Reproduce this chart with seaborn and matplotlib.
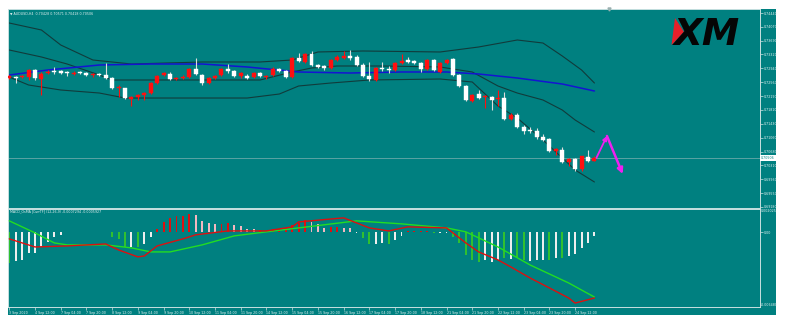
import numpy as np
import matplotlib
matplotlib.use("Agg")
import matplotlib.pyplot as plt
from matplotlib.patches import Rectangle, Polygon
from matplotlib.transforms import blended_transform_factory
import seaborn as sns

# ---------------- data: AUDUSD H4 ----------------
opens = [0.72680, 0.72708, 0.72708, 0.72708, 0.72898, 0.72653, 0.72816, 0.72871, 0.72871, 0.72844,
         0.72789, 0.72844, 0.72816, 0.72762, 0.72789, 0.72762, 0.72680, 0.72408, 0.72408, 0.72109,
         0.72164, 0.72218, 0.72272, 0.72544, 0.72762, 0.72789, 0.72653, 0.72680, 0.72708, 0.72925,
         0.72762, 0.72544, 0.72680, 0.72762, 0.72925, 0.72871, 0.72735, 0.72735, 0.72708, 0.72816,
         0.72708, 0.72762, 0.72925, 0.72871, 0.72708, 0.73224, 0.73116, 0.73333, 0.73034, 0.73007,
         0.72952, 0.73170, 0.73224, 0.73279, 0.73252, 0.73034, 0.72735, 0.72626, 0.72952, 0.72925,
         0.72898, 0.73088, 0.73170, 0.73143, 0.73088, 0.72925, 0.73170, 0.72844, 0.73088, 0.73197,
         0.72762, 0.72463, 0.72055, 0.72245, 0.72164, 0.72164, 0.72109, 0.72136, 0.71565, 0.71674,
         0.71348, 0.71266, 0.71239, 0.71076, 0.71021, 0.70695, 0.70722, 0.70396, 0.70477, 0.70205,
         0.70532, 0.70428]
highs = [0.72762, 0.72735, 0.72762, 0.72925, 0.72925, 0.72844, 0.72898, 0.72980, 0.72898, 0.72871,
         0.72871, 0.72871, 0.72844, 0.72816, 0.72816, 0.73088, 0.72708, 0.72490, 0.72420, 0.72191,
         0.72245, 0.72300, 0.72572, 0.72762, 0.72844, 0.72844, 0.72708, 0.72762, 0.72952, 0.73224,
         0.72789, 0.72708, 0.72762, 0.72952, 0.73061, 0.72898, 0.72844, 0.72789, 0.72844, 0.72844,
         0.72762, 0.72980, 0.72952, 0.72898, 0.73252, 0.73360, 0.73360, 0.73415, 0.73061, 0.73034,
         0.73197, 0.73306, 0.73415, 0.73442, 0.73306, 0.73088, 0.73116, 0.72980, 0.73116, 0.73007,
         0.73116, 0.73333, 0.73252, 0.73170, 0.73116, 0.73197, 0.73197, 0.73116, 0.73197, 0.73224,
         0.72789, 0.72490, 0.72245, 0.72354, 0.72218, 0.72191, 0.72354, 0.72300, 0.71728, 0.71728,
         0.71402, 0.71348, 0.71320, 0.71157, 0.71048, 0.70776, 0.70804, 0.70506, 0.70506, 0.70559,
         0.70722, 0.70571]
lows = [0.72653, 0.72544, 0.72680, 0.72626, 0.72626, 0.72218, 0.72789, 0.72789, 0.72789, 0.72735,
        0.72762, 0.72789, 0.72735, 0.72708, 0.72735, 0.72653, 0.72381, 0.72164, 0.72109, 0.71919,
        0.72082, 0.72082, 0.72245, 0.72517, 0.72735, 0.72626, 0.72626, 0.72653, 0.72680, 0.72762,
        0.72490, 0.72517, 0.72653, 0.72735, 0.72816, 0.72708, 0.72680, 0.72653, 0.72680, 0.72708,
        0.72653, 0.72735, 0.72844, 0.72680, 0.72680, 0.73116, 0.73088, 0.73007, 0.72952, 0.72898,
        0.72925, 0.73143, 0.73197, 0.73170, 0.73007, 0.72708, 0.72599, 0.72599, 0.72871, 0.72816,
        0.72871, 0.73061, 0.73088, 0.73061, 0.72844, 0.72898, 0.72871, 0.72816, 0.73061, 0.72735,
        0.72436, 0.72055, 0.72028, 0.72109, 0.71864, 0.71810, 0.71919, 0.71538, 0.71538, 0.71320,
        0.71157, 0.71184, 0.71021, 0.70967, 0.70668, 0.70586, 0.70368, 0.70286, 0.70151, 0.70151,
        0.70396, 0.70418]
closes = [0.72735, 0.72680, 0.72735, 0.72898, 0.72680, 0.72789, 0.72844, 0.72844, 0.72816, 0.72816,
          0.72816, 0.72816, 0.72762, 0.72789, 0.72762, 0.72680, 0.72408, 0.72436, 0.72136, 0.72164,
          0.72218, 0.72272, 0.72544, 0.72735, 0.72816, 0.72653, 0.72680, 0.72708, 0.72925, 0.72789,
          0.72544, 0.72680, 0.72735, 0.72925, 0.72871, 0.72735, 0.72816, 0.72680, 0.72816, 0.72735,
          0.72735, 0.72925, 0.72871, 0.72708, 0.73224, 0.73143, 0.73333, 0.73034, 0.72980, 0.72952,
          0.73170, 0.73252, 0.73279, 0.73224, 0.73034, 0.72735, 0.72653, 0.72952, 0.72925, 0.72898,
          0.73088, 0.73143, 0.73116, 0.73088, 0.72925, 0.73170, 0.72898, 0.73088, 0.73170, 0.72762,
          0.72463, 0.72082, 0.72218, 0.72136, 0.72191, 0.72082, 0.72136, 0.71565, 0.71674, 0.71348,
          0.71239, 0.71239, 0.71076, 0.70994, 0.70695, 0.70749, 0.70396, 0.70477, 0.70205, 0.70559,
          0.70423, 0.70506]

# Bollinger bands (20) and moving average, sampled along the bars
bb_upper_idx = [0, 5, 8, 13, 19, 30, 39, 44, 48, 55, 67, 73, 79, 83, 86, 89, 91]
bb_upper = [0.74176, 0.73986, 0.73578, 0.73170, 0.73061, 0.73116, 0.73116, 0.73170, 0.73388,
            0.73415, 0.73388, 0.73524, 0.73714, 0.73632, 0.73279, 0.72898, 0.72544]
bb_mid_idx = [0, 5, 9, 14, 16, 25, 39, 44, 47, 51, 58, 67, 72, 76, 79, 83, 86, 88, 91]
bb_mid = [0.73442, 0.73252, 0.73061, 0.72762, 0.72626, 0.72626, 0.72626, 0.72844, 0.72952,
          0.73007, 0.73007, 0.72980, 0.72844, 0.72463, 0.72272, 0.72082, 0.71810, 0.71538, 0.71212]
bb_lower_idx = [0, 3, 8, 14, 18, 37, 42, 45, 50, 56, 67, 72, 76, 79, 83, 86, 88, 91]
bb_lower = [0.72708, 0.72490, 0.72354, 0.72272, 0.72136, 0.72136, 0.72245, 0.72463, 0.72544,
            0.72626, 0.72653, 0.72572, 0.71919, 0.71592, 0.70994, 0.70506, 0.70178, 0.69852]
ma_idx = [0, 6, 14, 22, 30, 37, 45, 53, 61, 68, 73, 79, 86, 91]
ma = [0.72762, 0.72898, 0.73034, 0.73061, 0.73061, 0.72980, 0.72844, 0.72816, 0.72844,
      0.72844, 0.72789, 0.72680, 0.72517, 0.72327]

# MACD / OsMA histogram, one value per bar, with colour codes
osma = [-0.00269, -0.00246, -0.00240, -0.00182, -0.00177, -0.00125, -0.00082, -0.00043, -0.00021, 0.00005,
        0.00005, 0.00005, 0.00004, 0.00005, 0.00005, -0.00002, -0.00038, -0.00061, -0.00125, -0.00125,
        -0.00125, -0.00104, -0.00043, 0.00029, 0.00092, 0.00121, 0.00141, 0.00141, 0.00159, 0.00150,
        0.00101, 0.00078, 0.00072, 0.00072, 0.00078, 0.00063, 0.00055, 0.00026, 0.00026, 0.00020,
        0.00014, 0.00026, 0.00026, 0.00035, 0.00063, 0.00083, 0.00107, 0.00092, 0.00072, 0.00035,
        0.00043, 0.00043, 0.00035, 0.00035, -0.00005, -0.00052, -0.00102, -0.00102, -0.00095, -0.00102,
        -0.00067, -0.00030, 0.00011, 0.00011, 0.00014, 0.00008, -0.00009, -0.00009, -0.00009, -0.00038,
        -0.00095, -0.00197, -0.00240, -0.00255, -0.00240, -0.00255, -0.00240, -0.00226, -0.00232, -0.00226,
        -0.00240, -0.00246, -0.00240, -0.00240, -0.00240, -0.00226, -0.00226, -0.00206, -0.00188, -0.00136,
        -0.00090, -0.00032]
osma_codes = ("GWWWWWWWWR" "RRWRRWGGGW" "GWWRRRRRRP" "PPPRRPPPPR" "RRRRRRRPPP"
              "RRPPWGGWWG" "WWRRRRGWWG" "GGGGWWWGWG" "GWWWGWGWWW" "WW")

macd_idx = [0, 4, 9, 15, 17, 20, 21, 23, 27, 29, 34, 40, 44, 45, 52, 56, 59, 62, 68, 71,
            73, 76, 78, 81, 84, 87, 88, 91]
macd_line = [-0.00058, -0.00128, -0.00119, -0.00102, -0.00154, -0.00214, -0.00206, -0.00119,
             -0.00058, -0.00023, 0.00011, 0.00011, 0.00046, 0.00089, 0.00124, 0.00037, 0.00011,
             0.00046, 0.00037, -0.00093, -0.00171, -0.00240, -0.00301, -0.00397, -0.00483,
             -0.00570, -0.00614, -0.00570]
signal_idx = [0, 4, 7, 9, 15, 19, 22, 25, 30, 35, 40, 45, 54, 61, 68, 71, 76, 81, 87, 91]
signal_line = [0.00098, -0.00006, -0.00093, -0.00110, -0.00110, -0.00136, -0.00171, -0.00171,
               -0.00110, -0.00032, 0.00003, 0.00037, 0.00098, 0.00072, 0.00037, 0.00003,
               -0.00128, -0.00284, -0.00440, -0.00562]

# forecast arrows (bar index, price)
arrow_idx = [91.3, 92.95, 95.4]
arrow_price = [0.70506, 0.71103, 0.70069]

price_ticks = [0.74440, 0.74070, 0.73690, 0.73320, 0.72940, 0.72560, 0.72190, 0.71810,
               0.71430, 0.71060, 0.70680, 0.70310, 0.69930, 0.69550, 0.69180]
last_price = 0.70506
date_idx = [0, 4, 8, 12, 16, 20, 24, 28, 32, 36, 40, 44, 48, 52, 56, 60, 64, 68, 72, 76, 80, 84, 88]
date_labels = ["3 Sep 2020", "4 Sep 12:00", "7 Sep 04:00", "7 Sep 20:00", "8 Sep 12:00",
               "9 Sep 04:00", "9 Sep 20:00", "10 Sep 12:00", "11 Sep 04:00", "11 Sep 20:00",
               "14 Sep 12:00", "15 Sep 04:00", "15 Sep 20:00", "16 Sep 12:00", "17 Sep 04:00",
               "17 Sep 20:00", "18 Sep 12:00", "21 Sep 04:00", "21 Sep 20:00", "22 Sep 12:00",
               "23 Sep 04:00", "23 Sep 20:00", "24 Sep 12:00"]
macd_max, macd_min = 0.002025, -0.006480

# ---------------- styling ----------------
sns.set_theme(style="white")
plt.rcParams["font.family"] = ["DejaVu Sans"]

TEAL = "#008080"
LIGHT = "#c8e0e0"
TXT = "#e4f0f0"
BAND = "#113b3b"
UP = "#ff1010"
DOWN = "#ffffff"
HIST_COL = {"G": "#30c030", "W": "#eeeeee", "R": "#e01010", "P": "#f4b8c0"}
FS = 2.35

W, H = 786, 329
fig = plt.figure(figsize=(W / 100, H / 100), dpi=100, facecolor="white")
fx = lambda x: x / W
fy = lambda y: 1 - y / H

fig.patches.append(Rectangle((fx(8), fy(315)), fx(776) - fx(8), fy(9.3) - fy(315),
                             transform=fig.transFigure, facecolor=TEAL, edgecolor="none",
                             zorder=-5))

ax = fig.add_axes([fx(8), fy(207.5), fx(760) - fx(8), fy(9.3) - fy(207.5)])
ax2 = fig.add_axes([fx(8), fy(307), fx(760) - fx(8), fy(208.8) - fy(307)])

xlim = (-0.2, 116.75)
for a in (ax, ax2):
    a.set_facecolor(TEAL)
    a.set_xlim(*xlim)
    for s in a.spines.values():
        s.set_color(LIGHT)
        s.set_linewidth(0.7)

# ---------------- price panel ----------------
ax.set_ylim(0.69158, 0.74549)
ax.axhline(last_price, color="#5aa4a4", lw=0.7, zorder=1)

idx = np.arange(len(opens))
o = np.array(opens); c = np.array(closes)
hi = np.array(highs); lo = np.array(lows)
bull = c >= o
body_lo = np.minimum(o, c)
body_h = np.maximum(np.abs(c - o), 0.00008)
cols = np.where(bull, UP, DOWN)
wick_cols = np.where(bull, UP, "#dcdcdc")
ax.vlines(idx, lo, hi, colors=wick_cols, linewidth=0.8, zorder=3)
ax.bar(idx, body_h, bottom=body_lo, width=0.62, color=cols, edgecolor=cols,
       linewidth=0.3, zorder=4)

sns.lineplot(x=bb_upper_idx, y=bb_upper, ax=ax, color=BAND, lw=0.8, zorder=2)
sns.lineplot(x=bb_mid_idx, y=bb_mid, ax=ax, color=BAND, lw=0.8, zorder=2)
sns.lineplot(x=bb_lower_idx, y=bb_lower, ax=ax, color=BAND, lw=0.8, zorder=2)
sns.lineplot(x=ma_idx, y=ma, ax=ax, color="#1414d2", lw=1.1, zorder=2)

for k in range(2):
    ax.annotate("", xy=(arrow_idx[k + 1], arrow_price[k + 1]),
                xytext=(arrow_idx[k], arrow_price[k]),
                arrowprops=dict(arrowstyle="-|>", color="#f020f0", lw=1.3 + 0.5 * k,
                                mutation_scale=6 + 2 * k, shrinkA=0, shrinkB=0), zorder=6)

ax.set_xticks([])
ax.yaxis.tick_right()
ax.set_yticks(price_ticks)
ax.set_yticklabels([f"{v:.5f}" for v in price_ticks])
ax.tick_params(axis="y", right=True, length=2, width=0.5, colors=LIGHT,
               labelsize=FS, pad=1, labelcolor=TXT)
ax.set_xlabel(""); ax.set_ylabel("")

bt = blended_transform_factory(ax.transAxes, ax.transData)
ax.text(1.0015, last_price, f"{last_price:.5f}", transform=bt, fontsize=FS, color=TEAL,
        va="center", ha="left",
        bbox=dict(facecolor="white", edgecolor="none", pad=0.5), zorder=7)

# chart shift marker
ax.plot([93.3], [0.74549], marker="v", ms=2.2, color="#9ab0b0", clip_on=False, zorder=7)

# ---------------- MACD panel ----------------
ax2.set_ylim(macd_min, macd_max)
ax2.bar(idx, osma, width=0.3, color=[HIST_COL[k] for k in osma_codes], linewidth=0, zorder=2)
sns.lineplot(x=signal_idx, y=signal_line, ax=ax2, color="#22dd22", lw=1.0, zorder=3)
sns.lineplot(x=macd_idx, y=macd_line, ax=ax2, color="#dd1010", lw=1.0, zorder=4)

ax2.yaxis.tick_right()
ax2.set_yticks([0.0])
ax2.set_yticklabels(["0.00"])
ax2.tick_params(axis="y", right=True, length=2, width=0.5, colors=LIGHT,
                labelsize=FS, pad=1, labelcolor=TXT)
ax2.text(1.0015, 1.0, f"{macd_max:.6f}", transform=ax2.transAxes, fontsize=FS,
         color=TXT, va="top", ha="left")
ax2.text(1.0015, 0.0, f"{macd_min:.6f}", transform=ax2.transAxes, fontsize=FS,
         color=TXT, va="bottom", ha="left")

ax2.set_xticks(date_idx)
ax2.set_xticklabels(date_labels)
ax2.tick_params(axis="x", bottom=True, length=2, width=0.5, colors=LIGHT,
                labelsize=FS, pad=0.8, labelcolor=TXT)
for lbl in ax2.get_xticklabels():
    lbl.set_ha("left")
ax2.set_xlabel(""); ax2.set_ylabel("")

# ---------------- headers and logo ----------------
fig.text(fx(10), fy(13.3), "\u25bc AUDUSD,H4  0.70428 0.70571 0.70418 0.70506",
         fontsize=FS, color=TXT, va="center", ha="left")
fig.text(fx(10), fy(211.5), "MACD_OsMA [CurrTF] (12,26,9) -0.0007294 -0.0005927",
         fontsize=FS, color=TXT, va="center", ha="left")

fig.patches.append(Polygon([(fx(675), fy(18)), (fx(684), fy(32)), (fx(671.5), fy(45))],
                           closed=True, transform=fig.transFigure, facecolor="#e8202a",
                           edgecolor="none", zorder=5))
fig.text(fx(674), fy(45), "XM", fontsize=27, fontweight="heavy", fontstyle="italic",
         color="#050505", va="baseline", ha="left", zorder=6)

fig.savefig("out.png", dpi=100, facecolor="white")
